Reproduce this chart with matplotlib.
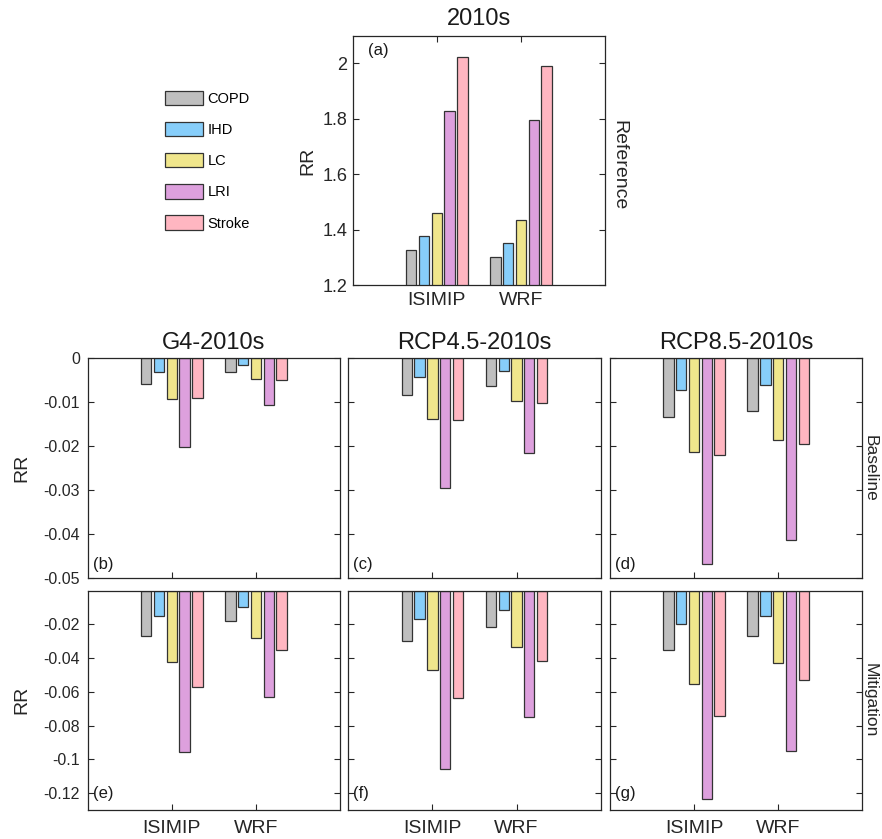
import numpy as np
import matplotlib
matplotlib.use("Agg")
import matplotlib.pyplot as plt

plt.rcParams['font.family'] = ['Liberation Sans', 'DejaVu Sans']

# categories / groups
diseases = ['COPD', 'IHD', 'LC', 'LRI', 'Stroke']
models = ['ISIMIP', 'WRF']
colors = ['#bfbfbf', '#87cefa', '#f0e68c', '#dda0dd', '#ffb6c1']

# (a) reference RR, 2010s
ref_isimip = [1.326, 1.377, 1.462, 1.827, 2.025]
ref_wrf = [1.302, 1.351, 1.437, 1.796, 1.990]

# baseline changes (b)-(d)
base_g4_isimip = [-0.0059, -0.0031, -0.0093, -0.0202, -0.0091]
base_g4_wrf = [-0.0032, -0.0015, -0.0048, -0.0107, -0.0050]
base_rcp45_isimip = [-0.0083, -0.0043, -0.0137, -0.0295, -0.0141]
base_rcp45_wrf = [-0.0064, -0.0030, -0.0098, -0.0216, -0.0102]
base_rcp85_isimip = [-0.0134, -0.0071, -0.0214, -0.0468, -0.0219]
base_rcp85_wrf = [-0.0120, -0.0061, -0.0186, -0.0414, -0.0195]

# mitigation changes (e)-(g)
mit_g4_isimip = [-0.0269, -0.0152, -0.0424, -0.0954, -0.0570]
mit_g4_wrf = [-0.0180, -0.0099, -0.0283, -0.0630, -0.0354]
mit_rcp45_isimip = [-0.0301, -0.0170, -0.0469, -0.1055, -0.0634]
mit_rcp45_wrf = [-0.0214, -0.0117, -0.0335, -0.0747, -0.0418]
mit_rcp85_isimip = [-0.0350, -0.0198, -0.0552, -0.1234, -0.0741]
mit_rcp85_wrf = [-0.0271, -0.0150, -0.0426, -0.0952, -0.0531]

W, H = 882, 839
fig = plt.figure(figsize=(W / 100, H / 100), dpi=100)


def make_ax(left, top, w, h):
    # pixel box -> figure fraction
    return fig.add_axes([left / W, 1 - (top + h) / H, w / W, h / H])


def draw_bars(ax, isimip, wrf):
    x = np.arange(1, len(models) + 1)
    bars = []
    for i in range(len(diseases)):
        vals = [isimip[i], wrf[i]]
        b = ax.bar(x + (i - 2) * 0.152, vals, width=0.123, color=colors[i],
                   edgecolor='#333333', linewidth=0.9, label=diseases[i], zorder=2)
        bars.append(b)
    ax.set_xlim(0, 3)
    ax.set_xticks(x)
    ax.set_xticklabels(models)
    for s in ax.spines.values():
        s.set_color('#262626')
        s.set_linewidth(0.9)
    ax.tick_params(direction='in', length=4, top=True, right=True,
                   color='#262626', labelcolor='#262626')
    return bars


# ---- panel (a)
ax_a = make_ax(352.7, 35.7, 252.3, 249.6)
handles = draw_bars(ax_a, ref_isimip, ref_wrf)
ax_a.set_ylim(1.2, 2.1)
ax_a.set_yticks([1.2, 1.4, 1.6, 1.8, 2.0])
ax_a.set_yticklabels(['1.2', '1.4', '1.6', '1.8', '2'])
ax_a.tick_params(axis='y', labelsize=13, pad=4)
ax_a.tick_params(axis='x', labelsize=14, pad=5)
ax_a.set_title('2010s', fontsize=17, pad=8, color='#1a1a1a')
ax_a.set_ylabel('RR', fontsize=14, color='#262626')
ax_a.yaxis.set_label_coords(-0.143, 0.5)
ax_a.text(0.06, 0.94, '(a)', transform=ax_a.transAxes, fontsize=12, va='center', color='#1a1a1a')
ax_a.text(1.022, 0.48, 'Reference', transform=ax_a.transAxes, rotation=-90,
          ha='left', va='center', fontsize=14, color='#262626')

# legend
fig.legend(handles=handles, labels=diseases, loc='upper left',
           bbox_to_anchor=(165 / W, 1 - 90.5 / H), frameon=False, fontsize=10.5,
           handlelength=2.6, handleheight=1.15, labelspacing=1.1,
           handletextpad=0.3, borderpad=0, borderaxespad=0)

# ---- panels (b)-(g)
lefts = [87.7, 348.3, 610.0]
titles = ['G4-2010s', 'RCP4.5-2010s', 'RCP8.5-2010s']
base = [(base_g4_isimip, base_g4_wrf), (base_rcp45_isimip, base_rcp45_wrf),
        (base_rcp85_isimip, base_rcp85_wrf)]
mit = [(mit_g4_isimip, mit_g4_wrf), (mit_rcp45_isimip, mit_rcp45_wrf),
       (mit_rcp85_isimip, mit_rcp85_wrf)]
top_letters = ['(b)', '(c)', '(d)']
bot_letters = ['(e)', '(f)', '(g)']

for j in range(3):
    # baseline row
    ax = make_ax(lefts[j], 358.3, 252.3, 220.0)
    draw_bars(ax, *base[j])
    ax.set_ylim(-0.05, 0)
    ax.set_yticks([-0.05, -0.04, -0.03, -0.02, -0.01, 0])
    ax.set_yticklabels(['-0.05', '-0.04', '-0.03', '-0.02', '-0.01', '0'])
    ax.tick_params(axis='y', labelsize=11.5, pad=5.5)
    ax.tick_params(axis='x', labelbottom=False)
    ax.set_title(titles[j], fontsize=17, pad=7, color='#1a1a1a')
    ax.text(0.02, 0.065, top_letters[j], transform=ax.transAxes, fontsize=12,
            va='center', color='#1a1a1a')
    if j == 0:
        ax.set_ylabel('RR', fontsize=14, color='#262626')
        ax.yaxis.set_label_coords(-0.226, 0.5)
    else:
        ax.tick_params(axis='y', labelleft=False)
    if j == 2:
        ax.text(1.003, 0.5, 'Baseline', transform=ax.transAxes, rotation=-90,
                ha='left', va='center', fontsize=12.5, color='#262626')

    # mitigation row
    ax = make_ax(lefts[j], 590.7, 252.3, 219.3)
    draw_bars(ax, *mit[j])
    ax.set_ylim(-0.13, 0)
    ax.set_yticks([-0.12, -0.1, -0.08, -0.06, -0.04, -0.02])
    ax.set_yticklabels(['-0.12', '-0.1', '-0.08', '-0.06', '-0.04', '-0.02'])
    ax.tick_params(axis='y', labelsize=11.5, pad=5.5)
    ax.tick_params(axis='x', labelsize=14, pad=7)
    ax.text(0.02, 0.075, bot_letters[j], transform=ax.transAxes, fontsize=12,
            va='center', color='#1a1a1a')
    if j == 0:
        ax.set_ylabel('RR', fontsize=14, color='#262626')
        ax.yaxis.set_label_coords(-0.226, 0.5)
    else:
        ax.tick_params(axis='y', labelleft=False)
    if j == 2:
        ax.text(1.003, 0.5, 'Mitigation', transform=ax.transAxes, rotation=-90,
                ha='left', va='center', fontsize=12.5, color='#262626')

fig.savefig('out.png', dpi=100)
